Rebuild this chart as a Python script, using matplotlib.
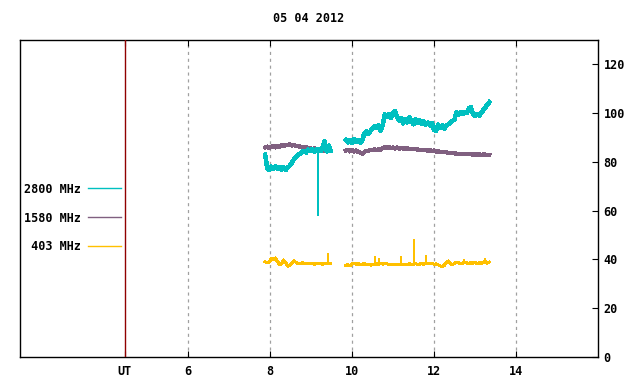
import numpy as np
import matplotlib
matplotlib.use("Agg")
import matplotlib.pyplot as plt

title = "05 04 2012"
labels = ["2800 MHz", "1580 MHz", " 403 MHz"]
colors = ["#00c0c0", "#806080", "#ffc000"]
xticks = [4.46, 6, 8, 10, 12, 14]
xticklabels = ["UT", "6", "8", "10", "12", "14"]
yticks = [0, 20, 40, 60, 80, 100, 120]
ut_time = 4.46

# segment 1 (start time 7.88 h, sample step 0.05 h)
seg1_start = 7.88
c2800_a = [83.0, 77.5, 76.6, 78.1, 77.0, 78.2, 77.2, 78.0, 76.7, 77.8, 76.6, 77.7, 78.4,
           79.5, 81.0, 82.0, 82.9, 83.2, 84.2, 84.5, 83.8, 85.1, 84.4, 85.3, 84.1, 85.0,
           85.4, 84.4, 85.8, 88.5, 84.3, 86.7, 84.6]
c1580_a = [86.0, 86.3, 85.7, 86.2, 86.5, 85.9, 86.7, 86.2, 86.9, 86.4, 87.1, 86.8, 87.3,
           86.7, 87.1, 86.4, 86.4, 86.3, 86.1, 85.7, 86.1, 85.5, 85.8, 85.2, 85.6, 84.9,
           85.4, 84.7, 85.2, 84.5, 85.0, 84.4, 84.9]
c403_a = [39.0, 38.6, 38.8, 40.5, 40.0, 40.6, 39.2, 38.0, 38.2, 39.8, 38.8, 37.3, 37.6,
          38.6, 39.4, 38.9, 38.4, 38.3, 38.6, 38.5, 38.4, 38.2, 38.3, 38.4, 38.1, 38.3,
          38.2, 38.4, 38.1, 38.3, 38.2, 38.5, 38.3]

# segment 2 (start time 9.85 h, sample step 0.05 h)
seg2_start = 9.85
c2800_b = [89.0, 88.0, 89.0, 87.8, 89.4, 88.2, 89.1, 87.9, 88.9, 91.8, 92.5, 91.4, 92.7,
           93.6, 94.6, 93.8, 95.0, 92.8, 95.4, 99.5, 98.4, 99.6, 98.0, 100.0, 100.8, 98.3,
           97.0, 98.0, 95.8, 97.7, 96.2, 98.2, 96.6, 95.4, 97.4, 96.1, 97.0, 95.6, 96.7,
           95.3, 96.2, 95.0, 96.0, 93.0, 92.8, 95.3, 93.8, 95.0, 93.6, 94.8, 95.5, 96.2,
           96.8, 97.5, 100.4, 99.4, 100.6, 99.6, 100.5, 100.0, 102.0, 102.5, 99.5, 99.0,
           99.6, 99.0, 100.0, 101.2, 102.3, 103.5, 104.5]
c1580_b = [84.6, 85.0, 84.3, 84.8, 84.2, 84.7, 84.1, 83.8, 83.4, 84.0, 84.6, 84.6, 85.0,
           84.9, 85.2, 84.9, 85.3, 85.0, 85.8, 86.1, 85.7, 86.1, 85.6, 86.0, 85.5, 85.9,
           85.4, 85.8, 85.5, 85.5, 85.5, 85.4, 85.3, 85.3, 85.2, 85.1, 85.0, 85.0, 84.7,
           85.0, 84.5, 84.8, 84.4, 84.7, 84.2, 84.3, 84.2, 84.1, 84.0, 84.0, 83.7, 83.7,
           83.6, 83.5, 83.4, 83.4, 83.3, 83.3, 83.2, 83.1, 83.1, 83.2, 82.8, 83.2, 82.9,
           83.3, 82.8, 83.1, 83.0, 83.0, 82.9]
c403_b = [37.6, 37.8, 37.5, 38.2, 38.3, 38.1, 38.2, 38.0, 38.1, 38.2, 37.9, 38.0, 37.7,
          37.8, 38.0, 38.2, 38.0, 38.3, 38.1, 38.4, 38.2, 38.0, 37.9, 38.1, 37.8, 37.9,
          38.0, 37.9, 38.1, 37.8, 38.0, 38.2, 38.0, 38.1, 38.3, 38.0, 38.1, 38.4, 38.0,
          38.6, 38.3, 38.2, 38.4, 38.0, 38.2, 37.8, 37.4, 37.0, 37.6, 38.8, 39.4, 38.4,
          37.8, 38.5, 38.9, 38.6, 38.2, 38.5, 38.9, 38.6, 38.3, 38.7, 38.4, 38.9, 38.3,
          38.7, 38.2, 38.8, 39.4, 38.5, 38.9]

# isolated spikes: time, base value, peak value
spk2800_t = [9.16]
spk2800_base = [84.8]
spk2800_top = [58.0]
spk403_t = [8.05, 9.41, 10.56, 10.66, 11.19, 11.50, 11.52, 11.80, 12.72, 13.24]
spk403_base = [40.0, 38.3, 38.0, 38.0, 38.0, 38.1, 38.1, 38.0, 38.5, 38.6]
spk403_top = [41.2, 42.5, 41.5, 40.5, 41.6, 48.5, 45.0, 41.8, 40.2, 40.4]

step = 0.05


def times(start, vals):
    return start + step * np.arange(len(vals))


mono = "DejaVu Sans Mono"
fs = 8.5
plt.rcParams["font.family"] = mono
plt.rcParams["font.weight"] = "bold"

fig = plt.figure(figsize=(6.4, 3.84), dpi=100)
ax = fig.add_axes([20 / 640, 27 / 384, 578 / 640, 317 / 384])
ax.set_xlim(1.9, 16)
ax.set_ylim(0, 130)

series = [(c2800_a, c2800_b), (c1580_a, c1580_b), (c403_a, c403_b)]
lws = [2.5, 2.3, 1.5]
zs = [4, 3, 3]
handles = []
for (a, b), col, lab, lw, z in zip(series, colors, labels, lws, zs):
    h, = ax.plot(times(seg1_start, a), a, color=col, lw=lw, label=lab, zorder=z,
                 antialiased=False)
    ax.plot(times(seg2_start, b), b, color=col, lw=lw, zorder=z, antialiased=False)
    handles.append(h)
ax.vlines(spk2800_t, spk2800_base, spk2800_top, color=colors[0], lw=1.2, zorder=4,
          antialiased=False)
ax.vlines(spk403_t, spk403_base, spk403_top, color=colors[2], lw=1.2, zorder=3,
          antialiased=False)

ax.axvline(ut_time, color="#900000", lw=1.0, zorder=5)

ax.set_xticks(xticks)
ax.set_xticklabels(xticklabels, fontsize=fs, fontweight="bold")
for x in xticks[1:]:
    ax.axvline(x, color="#a0a0a0", lw=0.9, ls=(0, (2.5, 3)), zorder=1)

ax.yaxis.tick_right()
ax.set_yticks(yticks)
ax.set_yticklabels([str(v) for v in yticks], fontsize=fs, fontweight="bold")
ax.tick_params(axis="x", direction="in", top=True, bottom=True, length=4, width=0.8, pad=6)
ax.tick_params(axis="y", direction="in", left=False, right=True, length=4, width=0.8, pad=4)
for s in ax.spines.values():
    s.set_linewidth(1.0)

ax.set_title(title, fontsize=fs, fontweight="bold", pad=13)

leg = ax.legend(handles=[handles[0], handles[1], handles[2]], labels=labels,
                loc="center right", bbox_to_anchor=((121 - 20) / 578, (357 - 218) / 317),
                frameon=False, markerfirst=False, handlelength=2.8, handletextpad=0.6,
                labelspacing=1.35, borderpad=0, borderaxespad=0,
                prop={"family": mono, "weight": "bold", "size": fs})
for line in leg.get_lines():
    line.set_linewidth(1.0)

fig.savefig("out.png", dpi=100)
